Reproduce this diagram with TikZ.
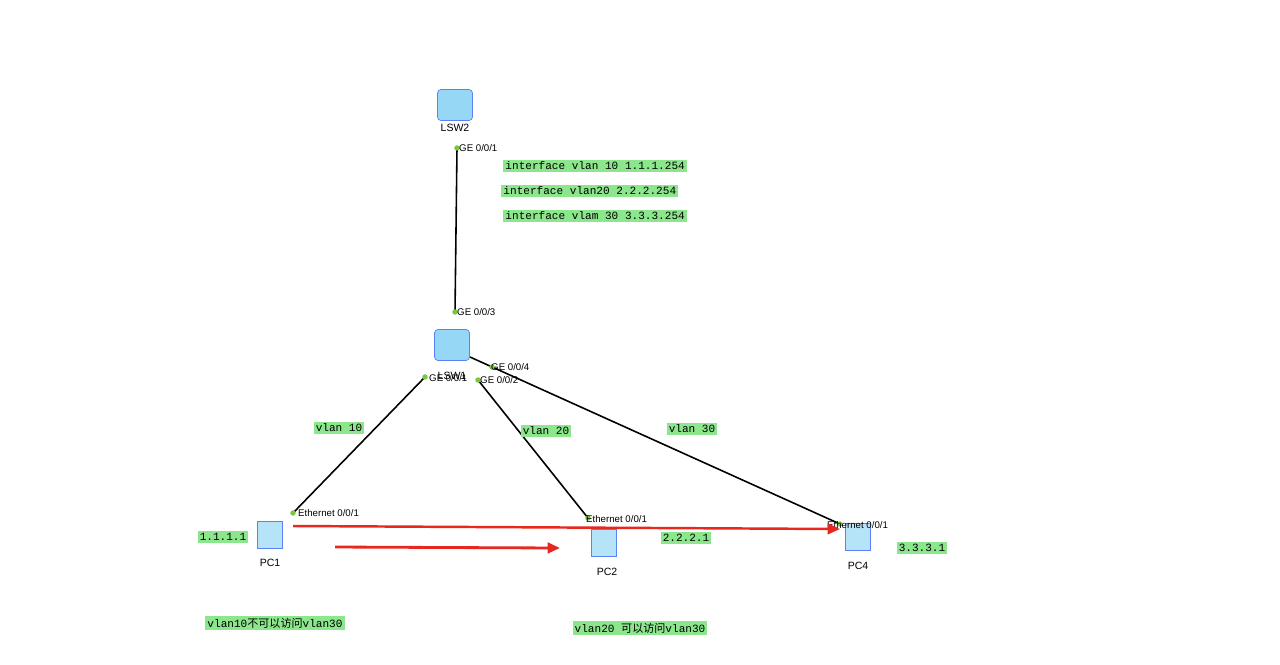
\documentclass[tikz,border=0pt]{standalone}
\usepackage{fontspec}
\setmainfont{Liberation Sans}
\newfontfamily\monof{Liberation Mono}
\newfontfamily\cjk{Noto Sans CJK SC}
\usetikzlibrary{positioning,arrows.meta}
\definecolor{tagbg}{RGB}{140,230,140}
\definecolor{iconbg}{RGB}{150,215,245}
\definecolor{portdot}{RGB}{120,200,60}
\definecolor{arrowred}{RGB}{230,40,30}

\begin{document}
\begin{tikzpicture}[x=0.02cm,y=-0.02cm,
  tag/.style={fill=tagbg,inner sep=1.2pt,font=\monof\fontsize{6.3}{7}\selectfont},
  port/.style={font=\fontsize{5.5}{6}\selectfont,inner sep=0.5pt},
  dev/.style={font=\fontsize{6}{7}\selectfont,inner sep=0.5pt},
  switch/.style={draw=iconbg!60!blue,fill=iconbg,rounded corners=2pt,minimum width=0.7cm,minimum height=0.62cm},
  pc/.style={draw=iconbg!60!blue,fill=iconbg!70!white,minimum width=0.5cm,minimum height=0.55cm},
  link/.style={line width=0.9pt},
  dot/.style={circle,fill=portdot,inner sep=1.1pt}]

\useasboundingbox (0,0) rectangle (1280,664);

%----------------------------------------------------
%equipamentos
%----------------------------------------------------
\node[switch] (LSW2) at (455,105) {};
\node[dev,below=1pt of LSW2] (LSW2l) {LSW2};
\node[switch] (LSW1) at (452,345) {};
\node[dev] (LSW1l) at (452,376) {LSW1};
\node[pc] (PC1) at (270,535) {};
\node[dev] (PC1l) at (270,563) {PC1};
\node[pc] (PC2) at (604,543) {};
\node[dev] (PC2l) at (607,572) {PC2};
\node[pc] (PC4) at (858,537) {};
\node[dev] (PC4l) at (858,566) {PC4};

%portas
\coordinate (p21) at (457,148);
\coordinate (p13) at (455,312);
\coordinate (p11) at (425,377);
\coordinate (p12) at (478,380);
\coordinate (p14) at (470,357);
\coordinate (e1) at (293,513);
\coordinate (e2) at (588,518);
\coordinate (e4) at (840,524);

%----------------------------------------------------
%ligacoes
%----------------------------------------------------
\draw[link] (p21) -- (p13);
\draw[link] (p11) -- (e1);
\draw[link] (p12) -- (e2);
\draw[link] (p14) -- (e4);

\foreach \p in {p21,p13,p11,p12,e1,e2,e4}
  \node[dot] at (\p) {};
\node[dot] at (492,367) {};

\node[port,anchor=west] (g21) at (458,148) {GE 0/0/1};
\node[port,anchor=west] (g13) at (456,312) {GE 0/0/3};
\node[port,anchor=west] (g11) at (428,378) {GE 0/0/1};
\node[port,anchor=west] (g12) at (479,380) {GE 0/0/2};
\node[port,anchor=west] (g14) at (490,367) {GE 0/0/4};
\node[port,anchor=west] (et1) at (297,513) {Ethernet 0/0/1};
\node[port,anchor=west] (et2) at (585,519) {Ethernet 0/0/1};
\node[port,anchor=west] (et4) at (826,525) {Ethernet 0/0/1};

%----------------------------------------------------
%setas vermelhas
%----------------------------------------------------
\draw[arrowred,line width=1.4pt,-{Triangle[length=7pt,width=6pt]}] (e1) ++(0,13) coordinate (a1) -- (e4 |- 0,529) coordinate (a2);
\draw[arrowred,line width=1.6pt,-{Triangle[length=7pt,width=6pt]}] (335,547) coordinate (b1) -- (560,548) coordinate (b2);

%----------------------------------------------------
%etiquetas
%----------------------------------------------------
\node[tag,anchor=west] (i10) at (503,166) {interface vlan 10 1.1.1.254};
\node[tag,anchor=west] (i20) at (501,191) {interface vlan20 2.2.2.254};
\node[tag,anchor=west] (i30) at (503,216) {interface vlam 30 3.3.3.254};
\node[tag] (v10) at (339,428) {vlan 10};
\node[tag] (v20) at (546,431) {vlan 20};
\node[tag] (v30) at (692,429) {vlan 30};
\node[tag] (ip1) at (223,537) {1.1.1.1};
\node[tag] (ip2) at (686,538) {2.2.2.1};
\node[tag] (ip4) at (922,548) {3.3.3.1};
\node[tag] (n1) at (275,623) {vlan10{\cjk 不可以访问}vlan30};
\node[tag] (n2) at (640,628) {vlan20 {\cjk 可以访问}vlan30};

\end{tikzpicture}
\end{document}
